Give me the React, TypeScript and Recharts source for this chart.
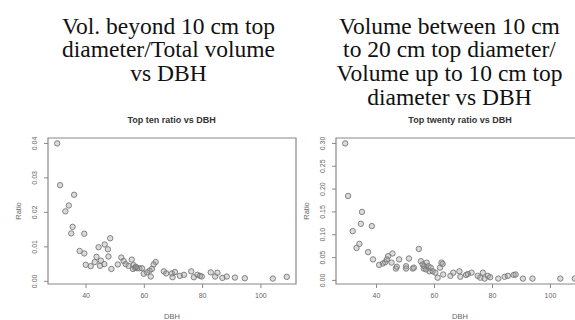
import React from 'react';
import { ScatterChart, Scatter, XAxis, YAxis, ReferenceArea } from 'recharts';

// Left panel: "Top ten ratio vs DBH"
const tenDBH = [
  30.1, 31.1, 35.9, 34.1, 32.9, 35.4, 34.9, 39.4, 37.8, 39.4,
  48.3, 46.4, 44.3, 47.5, 47.7, 43.6, 45.1, 43.0, 39.9, 41.6,
  44.8, 46.3, 48.7, 50.9, 52.1, 52.9, 53.6, 54.6, 55.7, 56.3,
  56.8, 57.5, 58.3, 59.2, 56.1, 57.1, 63.9, 63.2, 62.6, 61.8,
  60.9, 59.8, 62.2, 66.7, 67.5, 69.5, 69.7, 70.5, 72.2, 73.6,
  76.1, 77.0, 78.2, 79.1, 79.7, 82.8, 84.3, 85.1, 86.8, 88.3,
  91.1, 94.5, 104.1, 108.9,
];
const tenRatio = [
  0.040, 0.0279, 0.0251, 0.022, 0.0203, 0.0158, 0.0139, 0.0138, 0.0088, 0.0081,
  0.0125, 0.0107, 0.0099, 0.0093, 0.0072, 0.0071, 0.006, 0.0056, 0.0048, 0.0044,
  0.0045, 0.005, 0.0036, 0.0049, 0.0069, 0.0059, 0.005, 0.0045, 0.0063, 0.0047,
  0.0039, 0.0038, 0.0038, 0.0038, 0.0036, 0.0042, 0.0056, 0.0049, 0.0036, 0.0031,
  0.0026, 0.0022, 0.0014, 0.0029, 0.0023, 0.0023, 0.0012, 0.0027, 0.0016, 0.0019,
  0.0029, 0.0012, 0.0019, 0.0016, 0.0014, 0.0026, 0.0014, 0.0025, 0.001, 0.0014,
  0.0011, 0.0009, 0.0008, 0.0013,
];

// Right panel: "Top twenty ratio vs DBH"
const twentyDBH = [
  29.2, 30.2, 35.0, 34.6, 38.4, 31.8, 34.1, 33.1, 37.1, 38.8,
  45.5, 44.0, 43.0, 42.2, 40.9, 43.6, 45.2, 47.8, 46.7, 47.0,
  51.2, 50.2, 50.2, 52.5, 52.9, 54.6, 55.3, 55.9, 56.3, 56.5,
  57.1, 57.3, 57.9, 58.3, 58.7, 59.4, 60.3, 61.1, 61.9, 62.4,
  62.8, 63.0, 65.5, 66.5, 68.6, 68.9, 70.9, 71.5, 72.8, 74.9,
  75.8, 76.7, 77.3, 78.4, 79.2, 82.0, 84.2, 85.3, 87.3, 88.0,
  90.5, 93.8, 103.4, 108.4,
];
const twentyRatio = [
  0.300, 0.185, 0.150, 0.124, 0.119, 0.108, 0.080, 0.071, 0.062, 0.046,
  0.059, 0.053, 0.040, 0.037, 0.034, 0.046, 0.039, 0.046, 0.026, 0.030,
  0.048, 0.031, 0.026, 0.026, 0.028, 0.069, 0.042, 0.035, 0.026, 0.031,
  0.024, 0.039, 0.031, 0.020, 0.028, 0.020, 0.017, 0.006, 0.028, 0.039,
  0.036, 0.013, 0.010, 0.017, 0.020, 0.008, 0.012, 0.014, 0.017, 0.010,
  0.006, 0.017, 0.004, 0.010, 0.007, 0.004, 0.008, 0.010, 0.012, 0.013,
  0.004, 0.004, 0.004, 0.004,
];

const dbhTicks = [40, 60, 80, 100];
const tenTicks = [0, 0.01, 0.02, 0.03, 0.04];
const twentyTicks = [0, 0.05, 0.1, 0.15, 0.2, 0.25, 0.3];

const leftHeading = ['Vol. beyond 10 cm top', 'diameter/Total volume', 'vs DBH'];
const rightHeading = ['Volume between 10 cm', 'to 20 cm top diameter/', 'Volume up to 10 cm top', 'diameter vs DBH'];
const leftTitle = 'Top ten ratio vs DBH';
const rightTitle = 'Top twenty ratio vs DBH';

const rDomain = (vals: number[]): [number, number] => {
  const mn = Math.min(...vals);
  const mx = Math.max(...vals);
  const r = mx - mn;
  return [mn - 0.04 * r, mx + 0.04 * r];
};

const SANS = "'Liberation Sans', Arial, sans-serif";
const SERIF = "'Liberation Serif', 'Times New Roman', serif";
const AXIS = '#888888';
const TXT = '#666666';
const TICK_SIZE = 4;
const X_MARGIN = 5;
const Y_MARGIN = 2;

const XTick = (props: any) => {
  const { x, y, payload } = props;
  const axisY = y - TICK_SIZE - X_MARGIN;
  return (
    <g>
      <path d={`M${x},${axisY}V${axisY + TICK_SIZE}`} stroke={AXIS} strokeWidth={1} fill="none" />
      <text x={x} y={y + 5} textAnchor="middle" fontSize={7} fill={TXT} fontFamily={SANS}>
        {payload.value}
      </text>
    </g>
  );
};

const YTick = (props: any) => {
  const { x, y, payload } = props;
  const axisX = x + TICK_SIZE + Y_MARGIN;
  return (
    <g>
      <path d={`M${axisX},${y}H${axisX - TICK_SIZE}`} stroke={AXIS} strokeWidth={1} fill="none" />
      <text
        transform={`translate(${x - 5},${y}) rotate(-90)`}
        textAnchor="middle"
        fontSize={7}
        fill={TXT}
        fontFamily={SANS}
      >
        {Number(payload.value).toFixed(2)}
      </text>
    </g>
  );
};

const YLabel = (props: any) => {
  const vb = props.viewBox || {};
  const x = (vb.x ?? 8) + 12.5;
  const y = (vb.y ?? 0) + (vb.height ?? 0) / 2;
  return (
    <text
      transform={`translate(${x},${y}) rotate(-90)`}
      textAnchor="middle"
      fontSize={7.5}
      fill={TXT}
      fontFamily={SANS}
    >
      Ratio
    </text>
  );
};

const Dot = (props: any) => {
  const { cx, cy } = props;
  return <circle cx={cx} cy={cy} r={2.7} stroke="#777" strokeWidth={0.9} fill="#999" fillOpacity={0.35} />;
};

const Panel = ({ xs, ys, yTicks }: { xs: number[]; ys: number[]; yTicks: number[] }) => {
  const data = xs.map((x, i) => ({ x, y: ys[i] }));
  const xd = rDomain(xs);
  const yd = rDomain(ys);
  return (
    <ScatterChart width={300} height={210} margin={{ top: 28, right: 4, bottom: 0, left: 8 }}>
      <XAxis
        xAxisId="b"
        dataKey="x"
        type="number"
        domain={xd}
        allowDataOverflow
        ticks={dbhTicks}
        interval={0}
        height={36}
        axisLine={false}
        tickLine={false}
        tickSize={TICK_SIZE}
        tickMargin={X_MARGIN}
        tick={<XTick />}
        label={{ value: 'DBH', position: 'insideBottom', offset: 1, fontSize: 7.5, fill: TXT, fontFamily: SANS }}
      />
      <YAxis
        yAxisId="l"
        dataKey="y"
        type="number"
        domain={yd}
        allowDataOverflow
        ticks={yTicks}
        interval={0}
        width={40}
        axisLine={false}
        tickLine={false}
        tickSize={TICK_SIZE}
        tickMargin={Y_MARGIN}
        tick={<YTick />}
        label={<YLabel />}
      />
      <ReferenceArea
        xAxisId="b"
        yAxisId="l"
        x1={xd[0]}
        x2={xd[1]}
        y1={yd[0]}
        y2={yd[1]}
        fill="none"
        fillOpacity={0}
        stroke={AXIS}
        strokeWidth={1.2}
        strokeOpacity={1}
        ifOverflow="visible"
      />
      <Scatter data={data} xAxisId="b" yAxisId="l" shape={<Dot />} isAnimationActive={false} />
    </ScatterChart>
  );
};

const headingStyle: React.CSSProperties = {
  position: 'absolute',
  top: 14.5,
  width: 300,
  textAlign: 'center',
  fontFamily: SERIF,
  fontSize: 23.5,
  lineHeight: '23.7px',
  color: '#111',
  whiteSpace: 'nowrap',
};

const titleStyle: React.CSSProperties = {
  position: 'absolute',
  top: 116,
  width: 300,
  textAlign: 'center',
  fontFamily: SANS,
  fontWeight: 'bold',
  fontSize: 9,
  lineHeight: '9px',
  color: '#333',
  whiteSpace: 'nowrap',
};

export default function App() {
  return (
    <div style={{ position: 'absolute', left: 0, top: 0, width: 575, height: 320, overflow: 'hidden', background: '#fff' }}>
      <div style={{ ...headingStyle, left: 18.5 }}>
        {leftHeading.map((l, i) => (
          <div key={i}>{l}</div>
        ))}
      </div>
      <div style={{ ...headingStyle, left: 299.5 }}>
        {rightHeading.map((l, i) => (
          <div key={i}>{l}</div>
        ))}
      </div>
      <div style={{ ...titleStyle, left: 21.7 }}>{leftTitle}</div>
      <div style={{ ...titleStyle, left: 310 }}>{rightTitle}</div>
      <div style={{ position: 'absolute', left: 0, top: 110 }}>
        <Panel xs={tenDBH} ys={tenRatio} yTicks={tenTicks} />
      </div>
      <div style={{ position: 'absolute', left: 288, top: 110 }}>
        <Panel xs={twentyDBH} ys={twentyRatio} yTicks={twentyTicks} />
      </div>
    </div>
  );
}
